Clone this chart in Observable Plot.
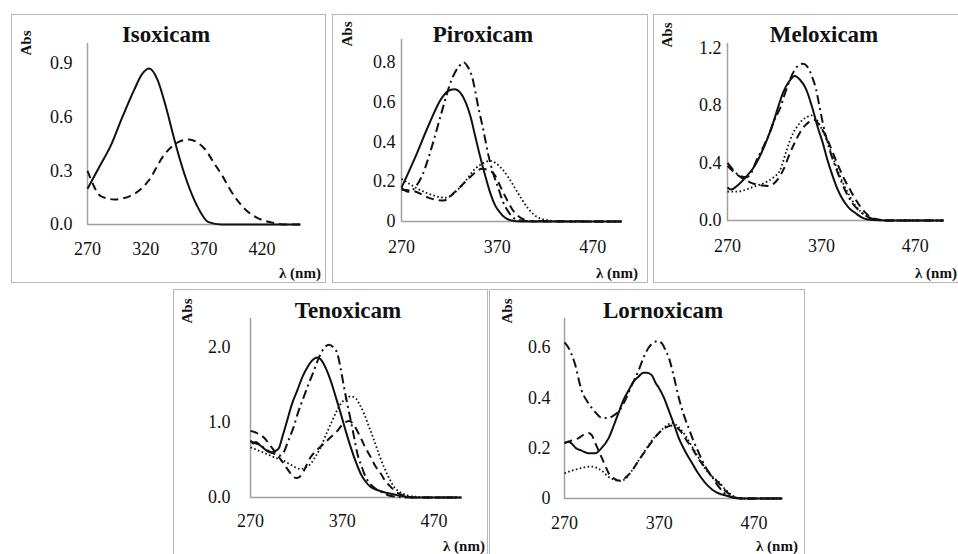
<!DOCTYPE html>
<html>
<head>
<meta charset="utf-8">
<script src="https://cdn.jsdelivr.net/npm/d3@7"></script>
<script src="https://cdn.jsdelivr.net/npm/@observablehq/plot@0.6"></script>
<style>
  html, body { margin: 0; padding: 0; background: #fff; overflow: hidden; }
  #root { position: relative; width: 958px; height: 554px; overflow: hidden; font-family: "Liberation Serif", "Times New Roman", serif; color: #111; }
  .panel { position: absolute; outline: 1px solid #b8b8b8; outline-offset: -1px; }
  .panel svg { position: absolute; left: 0; top: 0; }
  .title { position: absolute; font-weight: bold; font-size: 23px; transform: translate(-50%, 0); white-space: nowrap; line-height: 1; }
  .abs { position: absolute; font-weight: bold; font-size: 15px; transform: translate(-50%, -50%) rotate(-90deg); white-space: nowrap; line-height: 1; }
  .lam { position: absolute; font-weight: bold; font-size: 15px; transform: translate(0, -50%); white-space: nowrap; line-height: 1; }
</style>
</head>
<body>
<div id="root"></div>
<script>
// ---------- data: [wavelength (nm), absorbance] ----------
const isoxicamSolid = [[270,0.20],[280,0.32],[290,0.44],[300,0.60],[310,0.75],[317,0.84],[323,0.87],[330,0.81],[337,0.665],[344,0.49],[350,0.35],[356,0.23],[364,0.106],[374,0.013],[385,0.0],[453,0.0]];
const isoxicamDashed = [[270,0.30],[275,0.22],[281,0.16],[293,0.14],[307,0.16],[322,0.24],[336,0.39],[348,0.46],[357,0.475],[366,0.45],[371,0.42],[378,0.35],[386,0.27],[393,0.19],[400,0.125],[408,0.07],[415,0.04],[429,0.01],[440,0.0],[453,0.0]];

const piroxicamSolid = [[270,0.17],[285,0.33],[298,0.48],[312,0.62],[320,0.66],[326,0.665],[331,0.65],[337,0.60],[342,0.53],[347,0.43],[352,0.33],[357.5,0.23],[363,0.14],[368,0.08],[373,0.045],[378,0.02],[385,0.005],[395,0.0],[500,0.0]];
const piroxicamDashDot = [[270,0.17],[277,0.15],[284,0.17],[291.5,0.23],[302,0.38],[312,0.55],[323,0.72],[330,0.78],[335,0.80],[339,0.78],[343.6,0.73],[350.5,0.57],[356,0.45],[361,0.33],[366,0.24],[371.4,0.165],[376,0.10],[382,0.047],[390,0.01],[400,0.003],[500,0.0]];
const piroxicamDashed = [[270,0.16],[285,0.15],[298,0.12],[314,0.105],[326,0.15],[340,0.215],[348,0.25],[354,0.265],[360,0.26],[368,0.23],[373,0.18],[378,0.13],[388,0.047],[398,0.01],[410,0.0],[500,0.0]];
const piroxicamDotted = [[270,0.215],[285,0.17],[298,0.14],[316,0.12],[333,0.18],[347,0.265],[356,0.295],[362.5,0.305],[368,0.295],[375,0.265],[382,0.22],[389,0.165],[396,0.11],[402.6,0.064],[413,0.02],[425,0.005],[440,0.0],[500,0.0]];

const meloxicamSolid = [[270,0.23],[274,0.215],[280,0.24],[290.7,0.31],[298,0.37],[304.7,0.45],[312,0.56],[318.7,0.68],[324,0.79],[329.3,0.89],[336,0.97],[341.6,1.005],[347,0.98],[353.9,0.91],[360.9,0.77],[366,0.65],[371.4,0.54],[376,0.43],[381.9,0.31],[387,0.22],[392.4,0.15],[399,0.09],[406.5,0.05],[415,0.015],[425,0.003],[440,0.0],[500,0.0]];
const meloxicamDashDot = [[270,0.40],[275,0.36],[281,0.32],[290,0.30],[296,0.34],[301,0.42],[308,0.51],[315,0.61],[320,0.70],[326,0.78],[331,0.88],[336,0.97],[341,1.04],[346,1.08],[350.3,1.09],[355,1.07],[360,1.0],[364.4,0.91],[368,0.79],[371.4,0.68],[378.4,0.50],[387.2,0.335],[396,0.20],[403,0.12],[410,0.07],[418,0.03],[425,0.01],[440,0.0],[500,0.0]];
const meloxicamDashed = [[270,0.38],[278,0.33],[287,0.29],[296,0.26],[305,0.245],[314,0.24],[320,0.26],[325,0.30],[330,0.36],[336,0.46],[343,0.56],[350,0.64],[356,0.68],[362,0.70],[367,0.67],[372,0.62],[376.5,0.56],[381,0.49],[386,0.41],[390,0.35],[395,0.28],[400,0.22],[406,0.15],[411,0.10],[416,0.06],[421,0.03],[428,0.01],[440,0.0],[500,0.0]];
const meloxicamDotted = [[270,0.20],[280,0.20],[290,0.215],[298,0.235],[305,0.25],[312,0.27],[319,0.30],[326,0.35],[333,0.49],[340,0.61],[345,0.66],[350,0.70],[355,0.72],[359,0.73],[364,0.71],[370,0.64],[375,0.57],[380,0.48],[385.5,0.38],[391,0.29],[396,0.22],[401,0.16],[406.5,0.10],[412,0.06],[418,0.03],[425,0.01],[440,0.0],[500,0.0]];

const tenoxicamSolid = [[270,0.76],[273,0.72],[276,0.74],[281,0.69],[286,0.64],[292,0.60],[297,0.62],[301,0.66],[305,0.82],[310,1.03],[315,1.24],[321,1.43],[327,1.62],[332,1.74],[338,1.84],[343,1.87],[348,1.82],[353,1.70],[357.4,1.56],[363,1.34],[368.4,1.12],[374,0.88],[379.3,0.67],[385,0.47],[390,0.32],[395,0.22],[401,0.14],[408,0.10],[415.7,0.07],[423,0.05],[430,0.03],[440,0.01],[450,0.0],[500,0.0]];
const tenoxicamDashDot = [[270,0.75],[280,0.70],[290,0.62],[297,0.58],[302,0.56],[306,0.60],[311,0.75],[317,0.94],[322,1.14],[328,1.34],[333.5,1.52],[339,1.69],[344,1.85],[348.3,1.96],[352,2.02],[355.6,2.04],[360,2.01],[364.7,1.92],[368,1.74],[372,1.47],[376,1.22],[379.3,1.03],[383,0.80],[386.6,0.58],[391,0.42],[395.7,0.27],[402,0.16],[408.5,0.10],[415,0.06],[420,0.03],[430,0.01],[440,0.0],[500,0.0]];
const tenoxicamDashed = [[270,0.89],[277,0.86],[284.6,0.80],[290,0.72],[295.5,0.63],[301,0.54],[306.4,0.45],[312,0.35],[317.3,0.27],[321,0.26],[326.5,0.32],[331,0.43],[335.6,0.54],[343,0.64],[350,0.72],[357,0.80],[364.7,0.89],[370,0.97],[374,1.01],[378,1.02],[383,0.96],[390,0.80],[395,0.67],[401,0.54],[406,0.42],[412,0.32],[417,0.22],[423,0.14],[428,0.08],[434,0.04],[442,0.01],[450,0.0],[500,0.0]];
const tenoxicamDotted = [[270,0.67],[280,0.62],[288,0.58],[297,0.53],[306,0.49],[315,0.43],[324.6,0.38],[330,0.40],[335.6,0.45],[341,0.55],[346.5,0.67],[352,0.83],[357.4,0.98],[363,1.13],[368.4,1.25],[374,1.32],[379.3,1.35],[385,1.32],[389,1.24],[393.8,1.12],[399,0.95],[404.8,0.76],[410,0.58],[415.7,0.40],[421,0.26],[426.6,0.14],[433,0.07],[441,0.03],[450,0.01],[460,0.0],[500,0.0]];

const lornoxicamSolid = [[270,0.22],[274,0.225],[277,0.22],[282,0.20],[288,0.19],[295,0.18],[302.5,0.18],[309,0.20],[316.6,0.24],[322,0.29],[327,0.34],[332,0.39],[337.7,0.43],[343,0.465],[348.3,0.485],[353,0.50],[357,0.50],[362,0.49],[366,0.46],[369.5,0.44],[375,0.40],[380,0.35],[385,0.30],[390.6,0.24],[397,0.19],[404.7,0.14],[411,0.10],[418.9,0.06],[426,0.035],[433,0.02],[440,0.012],[450,0.003],[460,0.0],[500,0.0]];
const lornoxicamDashDot = [[270,0.62],[274,0.60],[281,0.535],[288,0.43],[295,0.38],[302,0.345],[309.5,0.32],[316,0.32],[322,0.33],[328,0.35],[334,0.39],[341,0.45],[348.3,0.51],[354,0.565],[358.9,0.60],[364,0.62],[368.7,0.625],[373,0.615],[377,0.585],[380,0.56],[385,0.49],[390.6,0.40],[396,0.33],[401,0.28],[406,0.23],[411.8,0.18],[418,0.13],[425.9,0.085],[433,0.045],[443,0.01],[455,0.0],[500,0.0]];
const lornoxicamDashed = [[270,0.22],[277,0.23],[284.8,0.24],[291,0.255],[295.4,0.26],[299,0.25],[302.5,0.22],[306,0.19],[309.5,0.16],[313,0.13],[316.6,0.10],[322,0.08],[329,0.07],[335,0.085],[341.2,0.11],[348,0.15],[355.4,0.19],[362,0.225],[369.5,0.26],[376,0.28],[383.5,0.29],[389,0.28],[394,0.26],[399,0.23],[404.7,0.20],[411,0.16],[418.9,0.12],[426,0.085],[433,0.06],[440,0.03],[447,0.01],[455,0.0],[500,0.0]];
const lornoxicamDotted = [[270,0.10],[277,0.11],[284.8,0.118],[292,0.125],[299,0.127],[305,0.12],[309.5,0.11],[316.6,0.085],[322,0.075],[327,0.07],[333,0.075],[341,0.11],[348,0.15],[355,0.19],[362,0.23],[369.5,0.26],[376,0.285],[383.5,0.30],[390,0.285],[397.6,0.25],[404,0.21],[411.8,0.16],[418,0.12],[425,0.09],[433,0.065],[440,0.035],[448,0.01],[455,0.0],[500,0.0]];

// ---------- tick labels ----------
const isoxicamXTicks = [270, 320, 370, 420];
const isoxicamYTicks = [0, 0.3, 0.6, 0.9];
const piroxicamXTicks = [270, 370, 470];
const piroxicamYTicks = [0, 0.2, 0.4, 0.6, 0.8];
const meloxicamXTicks = [270, 370, 470];
const meloxicamYTicks = [0, 0.4, 0.8, 1.2];
const tenoxicamXTicks = [270, 370, 470];
const tenoxicamYTicks = [0, 1.0, 2.0];
const lornoxicamXTicks = [270, 370, 470];
const lornoxicamYTicks = [0, 0.2, 0.4, 0.6];

const titles = ["Isoxicam", "Piroxicam", "Meloxicam", "Tenoxicam", "Lornoxicam"];

// ---------- layout / styles ----------
const lineStyles = {
  solid:   {dash: null, width: 2},
  dashed:  {dash: "8,5", width: 2},
  dashdot: {dash: "9,4,2,4", width: 2},
  dotted:  {dash: "1.6,2.4", width: 1.8}
};

const f1 = d3.format(".1f");
const fZero = d => d === 0 ? "0" : d3.format(".1f")(d);

const panels = [
  {title: titles[0], box: {x: 11, y: 14, w: 315, h: 269}, frame: {l: 87, r: 300, t: 43, b: 224},
   xDomain: [270, 453], yDomain: [0, 1.01], xTicks: isoxicamXTicks, yTicks: isoxicamYTicks, yFormat: f1,
   yPad: 15, xPad: 18, titleX: 166, titleY: 23, absX: 26, absY: 43, lamX: 279, lamY: 273,
   series: [["dashed", isoxicamDashed], ["solid", isoxicamSolid]]},
  {title: titles[1], box: {x: 332, y: 14, w: 316, h: 269}, frame: {l: 401, r: 621, t: 39, b: 221},
   xDomain: [270, 500], yDomain: [0, 0.915], xTicks: piroxicamXTicks, yTicks: piroxicamYTicks, yFormat: fZero,
   yPad: 6, xPad: 19, titleX: 483, titleY: 23, absX: 347, absY: 34, lamX: 596, lamY: 273,
   series: [["dotted", piroxicamDotted], ["dashed", piroxicamDashed], ["dashdot", piroxicamDashDot], ["solid", piroxicamSolid]]},
  {title: titles[2], box: {x: 653, y: 14, w: 320, h: 269}, frame: {l: 727, r: 943, t: 43, b: 220},
   xDomain: [270, 500], yDomain: [0, 1.23], xTicks: meloxicamXTicks, yTicks: meloxicamYTicks, yFormat: f1,
   yPad: 6, xPad: 19, titleX: 824, titleY: 23, absX: 667, absY: 35, lamX: 915, lamY: 273,
   series: [["dotted", meloxicamDotted], ["dashed", meloxicamDashed], ["dashdot", meloxicamDashDot], ["solid", meloxicamSolid]]},
  {title: titles[3], box: {x: 173, y: 289, w: 315, h: 280}, frame: {l: 250, r: 461, t: 318, b: 497},
   xDomain: [270, 500], yDomain: [0, 2.39], xTicks: tenoxicamXTicks, yTicks: tenoxicamYTicks, yFormat: f1,
   yPad: 20, xPad: 17, titleX: 348, titleY: 299, absX: 187, absY: 311, lamX: 443, lamY: 546,
   series: [["dotted", tenoxicamDotted], ["dashed", tenoxicamDashed], ["dashdot", tenoxicamDashDot], ["solid", tenoxicamSolid]]},
  {title: titles[4], box: {x: 489, y: 289, w: 316, h: 280}, frame: {l: 564, r: 782, t: 318, b: 498},
   xDomain: [270, 500], yDomain: [0, 0.715], xTicks: lornoxicamXTicks, yTicks: lornoxicamYTicks, yFormat: fZero,
   yPad: 14, xPad: 18, titleX: 663, titleY: 299, absX: 507, absY: 311, lamX: 756, lamY: 546,
   series: [["dotted", lornoxicamDotted], ["dashed", lornoxicamDashed], ["dashdot", lornoxicamDashDot], ["solid", lornoxicamSolid]]}
];

const root = document.getElementById("root");
const FONT = '"Liberation Serif", "Times New Roman", serif';

for (const p of panels) {
  const div = document.createElement("div");
  div.className = "panel";
  Object.assign(div.style, {left: p.box.x + "px", top: p.box.y + "px", width: p.box.w + "px", height: p.box.h + "px"});

  const lineMarks = p.series.map(([style, data]) => Plot.line(data, {
    x: d => d[0], y: d => d[1],
    stroke: "#111", strokeWidth: lineStyles[style].width,
    strokeDasharray: lineStyles[style].dash, strokeLinecap: "butt", strokeLinejoin: "round",
    curve: "monotone-x"
  }));

  const svg = Plot.plot({
    width: p.box.w, height: p.box.h,
    marginLeft: p.frame.l - p.box.x,
    marginRight: p.box.x + p.box.w - p.frame.r,
    marginTop: p.frame.t - p.box.y,
    marginBottom: p.box.y + p.box.h - p.frame.b,
    x: {domain: p.xDomain},
    y: {domain: p.yDomain},
    style: {fontFamily: FONT, fontSize: "18px", color: "#111", background: "transparent", overflow: "visible"},
    marks: [
      Plot.axisX({ticks: p.xTicks, tickSize: 0, tickPadding: p.xPad, tickFormat: d => String(d), label: null, fontSize: 18}),
      Plot.axisY({ticks: p.yTicks, tickSize: 0, tickPadding: p.yPad, tickFormat: p.yFormat, label: null, fontSize: 18}),
      Plot.ruleX([p.xDomain[0]], {stroke: "#a0a0a0", strokeWidth: 1.5}),
      Plot.ruleY([0], {stroke: "#a0a0a0", strokeWidth: 1.5}),
      ...lineMarks
    ]
  });
  div.appendChild(svg);
  root.appendChild(div);

  const t = document.createElement("div");
  t.className = "title"; t.textContent = p.title;
  Object.assign(t.style, {left: p.titleX + "px", top: p.titleY + "px"});
  root.appendChild(t);

  const a = document.createElement("div");
  a.className = "abs"; a.textContent = "Abs";
  Object.assign(a.style, {left: p.absX + "px", top: p.absY + "px"});
  root.appendChild(a);

  const l = document.createElement("div");
  l.className = "lam"; l.textContent = "λ (nm)";
  Object.assign(l.style, {left: p.lamX + "px", top: p.lamY + "px"});
  root.appendChild(l);
}
</script>
</body>
</html>
